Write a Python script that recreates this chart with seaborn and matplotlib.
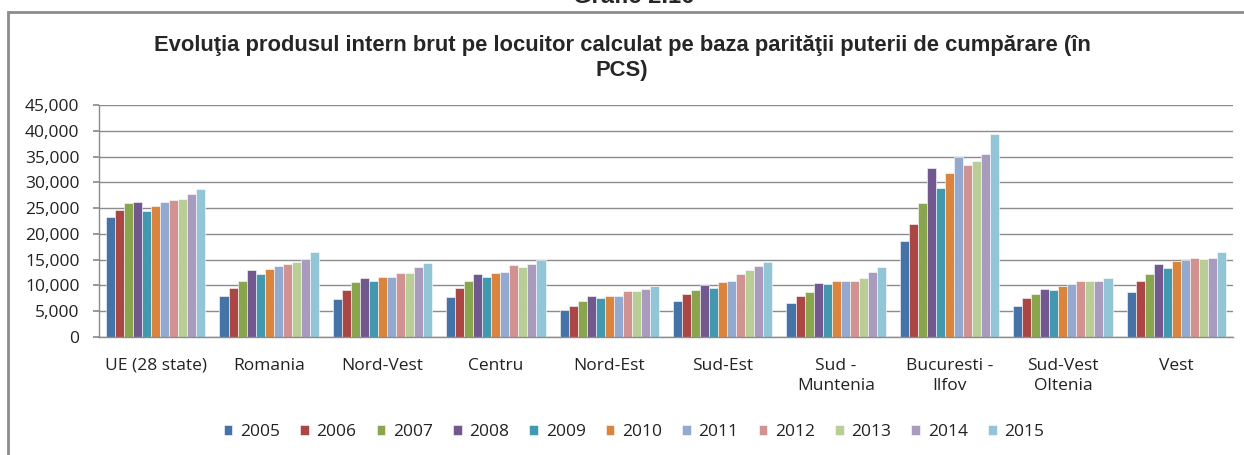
import numpy as np
import pandas as pd
import seaborn as sns
import matplotlib
matplotlib.use("Agg")
import matplotlib.pyplot as plt
from matplotlib.patches import Rectangle

regions = ["UE (28 state)", "Romania", "Nord-Vest", "Centru", "Nord-Est", "Sud-Est",
           "Sud -\nMuntenia", "Bucuresti -\nIlfov", "Sud-Vest\nOltenia", "Vest"]
years = ["2005", "2006", "2007", "2008", "2009", "2010", "2011", "2012", "2013", "2014", "2015"]

ue = [23200, 24600, 25900, 26100, 24400, 25500, 26100, 26600, 26700, 27700, 28800]
romania = [7900, 9600, 10900, 12900, 12200, 13100, 13700, 14200, 14600, 15200, 16500]
nord_vest = [7300, 9100, 10600, 11500, 10900, 11700, 11700, 12500, 12500, 13500, 14400]
centru = [7700, 9500, 10900, 12200, 11700, 12500, 12700, 13900, 13600, 14100, 14900]
nord_est = [5200, 6000, 6900, 7900, 7500, 7900, 7900, 9000, 9000, 9300, 9900]
sud_est = [6900, 8300, 9100, 10000, 9600, 10600, 10900, 12300, 13000, 13700, 14600]
sud_muntenia = [6500, 7900, 8800, 10400, 10200, 10800, 10900, 10900, 11500, 12700, 13600]
bucuresti = [18600, 21900, 25900, 32800, 28900, 31900, 35000, 33400, 34100, 35500, 39300]
sud_vest = [6000, 7500, 8400, 9400, 9200, 9900, 10200, 10800, 10800, 10800, 11500]
vest = [8700, 10800, 12300, 14200, 13400, 14800, 14900, 15300, 15100, 15300, 16500]

series = [ue, romania, nord_vest, centru, nord_est, sud_est, sud_muntenia, bucuresti, sud_vest, vest]

colors = ["#4572A7", "#AA4643", "#89A54E", "#71588F", "#4198AF", "#DB843D",
          "#93A9CF", "#D19392", "#B9CD96", "#A99BBD", "#92C5D6"]

title = "Evoluţia produsul intern brut pe locuitor calculat pe baza parităţii puterii de cumpărare (în\nPCS)"
caption = "Grafic 2.16"

rows = []
for reg, vals in zip(regions, series):
    for yr, v in zip(years, vals):
        rows.append({"region": reg, "year": yr, "value": v})
df = pd.DataFrame(rows)

sns.set_theme(style="white")
plt.rcParams['font.family'] = ['Open Sans', 'DejaVu Sans']

W, H = 1244, 455
fig = plt.figure(figsize=(W / 100, H / 100), dpi=100)
ax = fig.add_axes([99 / W, (H - 337) / H, (1233 - 99) / W, (337 - 105) / H])

sns.barplot(data=df, x="region", y="value", hue="year", palette=colors,
            width=0.875, ax=ax, legend=True, saturation=1,
            edgecolor="white", linewidth=0.4)

ax.set_ylim(0, 45000)
ax.set_yticks(np.arange(0, 45001, 5000))
ax.set_yticklabels([f"{v:,}" for v in range(0, 45001, 5000)])
ax.set_xlim(-0.5, len(regions) - 0.5)
ax.set_xlabel("")
ax.set_ylabel("")
ax.yaxis.grid(True, color="#8c8c8c", linewidth=1.0)
ax.set_axisbelow(True)
for s in ["top", "right"]:
    ax.spines[s].set_visible(False)
for s in ["left", "bottom"]:
    ax.spines[s].set_color("#8c8c8c")
    ax.spines[s].set_linewidth(1.0)
ax.tick_params(axis="y", left=True, length=4, color="#8c8c8c", pad=10,
               labelsize=12.5, labelcolor="#222222")
ax.tick_params(axis="x", bottom=False, pad=9, labelsize=12.5, labelcolor="#222222")
for lbl in ax.get_xticklabels():
    lbl.set_linespacing(1.35)

leg = ax.legend(loc="center", bbox_to_anchor=((634 - 99) / 1134, -(432 - 337) / 232), ncol=11,
                frameon=False, fontsize=12.5, handlelength=0.5, handleheight=0.5,
                handletextpad=0.45, columnspacing=1.15)
for t in leg.get_texts():
    t.set_color("#222222")

fig.text(622 / W, 1 - 58 / H, title,
         ha="center", va="center", fontsize=15.8, fontweight="bold",
         family=["Liberation Sans", "DejaVu Sans"], linespacing=1.3)

fig.text(634 / W, 1 - 3 / H, caption, ha="center", va="baseline", fontsize=17,
         fontweight="bold", family=["Liberation Sans", "DejaVu Sans"])

fig.patches.append(Rectangle((8 / W, -0.05), 1.2, 1 - 12 / H + 0.05, transform=fig.transFigure,
                             fill=False, edgecolor="#8c8c8c", linewidth=2))

fig.savefig("out.png", dpi=100)
